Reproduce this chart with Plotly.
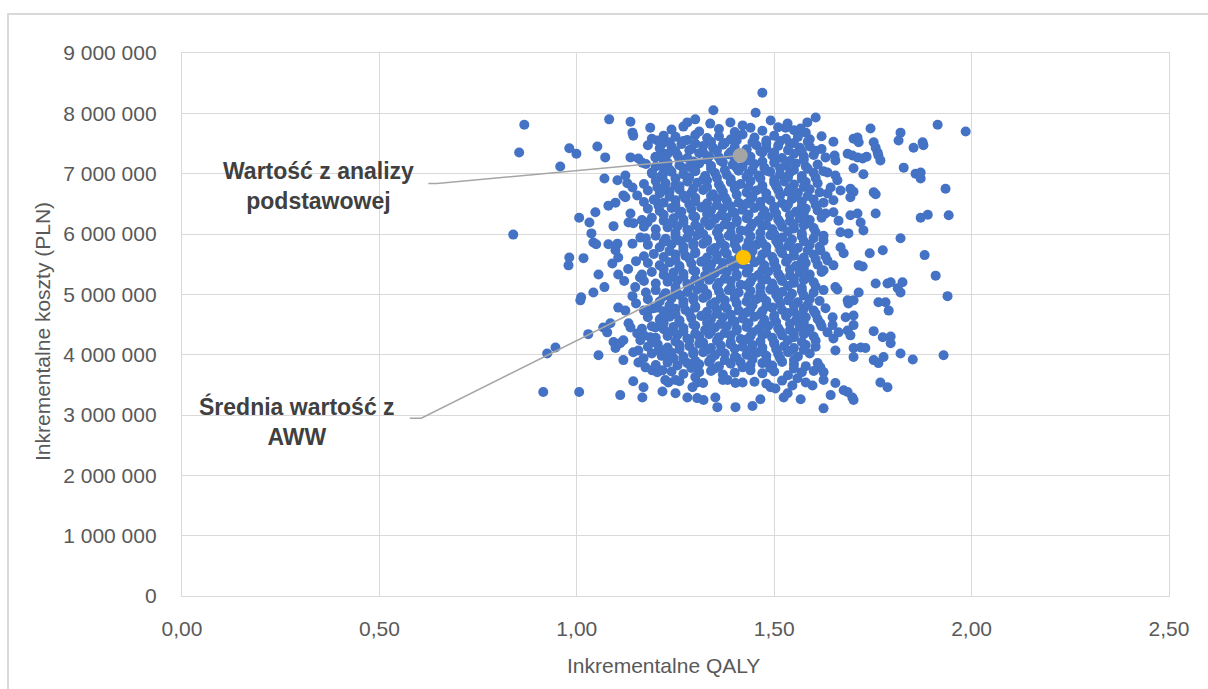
import plotly.graph_objects as go

# Points: (incremental QALY, incremental cost in mln PLN)
punkty_gora = [
    (1.470, 8.34), (1.346, 8.05), (1.453, 8.01), (0.867, 7.81), (1.082, 7.90), (1.136, 7.86),
    (1.280, 7.85), (1.300, 7.90), (1.338, 7.83), (1.389, 7.85), (1.491, 7.88), (1.534, 7.83),
    (1.605, 7.93), (1.584, 7.85), (1.186, 7.76), (1.420, 7.80), (1.744, 7.75), (1.914, 7.81),
    (1.985, 7.70), (1.529, 7.76), (1.567, 7.75), (1.820, 7.68), (1.815, 7.55),
]

punkty_lewo = [
    (0.854, 7.35), (0.981, 7.42), (0.999, 7.33), (1.052, 7.45), (1.072, 7.27), (0.958, 7.12),
    (1.136, 7.27), (1.141, 7.68), (1.143, 7.63), (1.156, 7.25), (1.166, 7.18), (1.204, 7.55),
    (1.217, 7.50), (1.199, 7.27), (1.219, 7.33), (1.224, 7.22), (1.191, 7.00),
    (1.103, 6.89), (1.123, 6.97), (1.128, 6.84), (1.141, 6.77), (1.118, 6.64), (1.153, 6.64),
    (1.204, 6.77), (1.217, 6.72), (1.219, 7.10), (1.229, 7.05), (1.217, 6.94), (1.070, 6.92),
    (0.839, 5.99), (1.006, 6.27), (1.047, 6.36), (1.032, 6.19), (1.080, 6.47), (1.098, 6.52),
    (1.123, 6.61), (1.136, 6.34), (1.131, 6.19), (1.143, 6.18), (1.093, 6.13), (1.037, 6.01),
    (1.042, 5.86), (1.049, 5.83), (1.080, 5.83), (1.103, 5.84), (1.098, 5.73), (1.105, 5.61),
    (1.090, 5.51), (1.141, 5.84), (1.161, 5.94), (1.179, 6.19), (1.199, 6.56), (1.207, 6.47),
    (0.981, 5.61), (0.979, 5.48), (1.017, 5.60), (1.055, 5.33), (1.105, 5.33), (1.148, 5.12),
    (1.141, 4.97), (1.042, 5.03), (1.011, 4.95), (1.120, 5.22), (1.070, 5.12), (1.130, 5.42),
    (1.150, 5.55), (1.160, 5.28), (1.150, 4.85),
]

punkty_lewo_dol = [
    (1.009, 4.90), (1.105, 4.78), (1.123, 4.73), (1.067, 4.45), (1.085, 4.52), (1.077, 4.37),
    (1.131, 4.52), (1.136, 4.45), (1.029, 4.34), (0.946, 4.12), (0.925, 4.02), (1.055, 3.99),
    (1.093, 4.21), (1.098, 4.11), (1.110, 4.19), (1.118, 4.24), (1.153, 4.35), (1.161, 4.24),
    (1.143, 4.04), (1.156, 4.07), (1.118, 3.91), (1.156, 3.87), (1.169, 3.94), (1.174, 3.79),
    (1.186, 4.29), (1.191, 4.21), (1.199, 4.45), (1.219, 4.57), (1.181, 4.73), (1.204, 4.78),
    (1.229, 4.69), (1.212, 4.60), (1.191, 3.74), (1.204, 3.71), (1.217, 3.74), (1.143, 3.56),
    (1.169, 3.46), (1.166, 3.29), (1.110, 3.33), (1.217, 3.39), (1.224, 3.58), (0.915, 3.38),
    (1.006, 3.38), (1.207, 4.07), (1.219, 4.02),
]

punkty_prawo = [
    (1.650, 7.53), (1.701, 7.58), (1.711, 7.60), (1.714, 7.52), (1.752, 7.52), (1.757, 7.43),
    (1.762, 7.35), (1.764, 7.30), (1.769, 7.22), (1.853, 7.43), (1.876, 7.52), (1.878, 7.47),
    (1.686, 7.33), (1.698, 7.30), (1.711, 7.27), (1.724, 7.25), (1.734, 7.28), (1.653, 7.30),
    (1.655, 7.22), (1.701, 7.09), (1.726, 6.99), (1.828, 7.10), (1.858, 7.00), (1.871, 7.02),
    (1.871, 6.92), (1.934, 6.75), (1.752, 6.69), (1.635, 7.02), (1.655, 6.97), (1.660, 6.89),
    (1.643, 6.77), (1.668, 6.72), (1.693, 6.75), (1.701, 6.70), (1.757, 6.66),
    (1.757, 6.34), (1.871, 6.27), (1.889, 6.32), (1.942, 6.31), (1.820, 5.93), (1.742, 5.68),
    (1.775, 5.73), (1.881, 5.65), (1.909, 5.31), (1.714, 5.48), (1.724, 5.46), (1.757, 5.18),
    (1.787, 5.18), (1.795, 5.20), (1.825, 5.20), (1.813, 5.10), (1.820, 5.03), (1.939, 4.97),
    (1.714, 5.03), (1.655, 5.12), (1.660, 5.08), (1.686, 4.90), (1.701, 4.90), (1.764, 4.87),
    (1.782, 4.87), (1.635, 6.67), (1.650, 6.56), (1.693, 6.61), (1.630, 6.34), (1.650, 6.36),
    (1.663, 6.22), (1.693, 6.31), (1.711, 6.34), (1.719, 6.19), (1.726, 6.06), (1.668, 6.03),
    (1.688, 6.01), (1.625, 5.89), (1.617, 5.73), (1.668, 5.78), (1.676, 5.68), (1.635, 5.56),
    (1.650, 5.48), (1.625, 5.40),
]

punkty_prawo_dol = [
    (1.688, 4.85), (1.790, 4.73), (1.648, 4.62), (1.681, 4.62), (1.701, 4.65), (1.617, 4.52),
    (1.648, 4.49), (1.701, 4.49), (1.635, 4.37), (1.663, 4.37), (1.686, 4.40), (1.693, 4.32),
    (1.650, 4.27), (1.752, 4.39), (1.775, 4.29), (1.795, 4.30), (1.795, 4.19), (1.655, 4.07),
    (1.701, 4.11), (1.719, 4.12), (1.731, 4.11), (1.701, 3.96), (1.752, 3.91), (1.764, 3.86),
    (1.777, 3.96), (1.820, 4.02), (1.851, 3.92), (1.929, 3.99), (1.769, 3.54), (1.787, 3.46),
    (1.617, 3.79), (1.625, 3.71), (1.625, 3.58), (1.655, 3.53), (1.676, 3.41), (1.686, 3.38),
    (1.698, 3.29), (1.701, 3.25), (1.643, 3.33), (1.625, 3.11),
]

punkty_dol = [
    (1.356, 3.13), (1.402, 3.13), (1.445, 3.15), (1.465, 3.26), (1.567, 3.26), (1.524, 3.29),
    (1.534, 3.36), (1.491, 3.46), (1.503, 3.44), (1.546, 3.49), (1.559, 3.61), (1.597, 3.49),
    (1.420, 3.54), (1.382, 3.58), (1.402, 3.53), (1.300, 3.63), (1.305, 3.54), (1.293, 3.46),
    (1.280, 3.29), (1.305, 3.28), (1.321, 3.25), (1.351, 3.29), (1.232, 3.54), (1.250, 3.58),
    (1.250, 3.36), (1.229, 3.96), (1.245, 3.94),
]

punkty_rdzen_gorny = [
    (1.24, 7.73), (1.27, 7.78), (1.31, 7.70), (1.36, 7.74), (1.40, 7.69), (1.44, 7.76), (1.47, 7.71), (1.51, 7.77), (1.55, 7.72), (1.58, 7.68),
    (1.19, 7.58), (1.22, 7.63), (1.25, 7.61), (1.28, 7.56), (1.30, 7.64), (1.33, 7.59), (1.36, 7.62), (1.39, 7.57), (1.42, 7.65), (1.45, 7.60), (1.48, 7.55), (1.50, 7.63), (1.53, 7.58), (1.56, 7.61), (1.59, 7.57), (1.62, 7.62),
    (1.18, 7.47), (1.21, 7.42), (1.24, 7.45), (1.265, 7.49), (1.29, 7.41), (1.32, 7.46), (1.345, 7.43), (1.37, 7.48), (1.40, 7.44), (1.43, 7.40), (1.455, 7.47), (1.48, 7.42), (1.51, 7.46), (1.54, 7.49), (1.565, 7.43), (1.59, 7.45), (1.62, 7.41),
    (1.20, 7.28), (1.23, 7.33), (1.255, 7.31), (1.28, 7.26), (1.31, 7.34), (1.335, 7.29), (1.36, 7.27), (1.385, 7.32), (1.44, 7.28), (1.47, 7.35), (1.495, 7.30), (1.52, 7.26), (1.55, 7.33), (1.575, 7.29), (1.60, 7.31), (1.63, 7.27),
    (1.175, 7.16), (1.20, 7.12), (1.23, 7.18), (1.26, 7.14), (1.285, 7.11), (1.31, 7.17), (1.34, 7.13), (1.37, 7.19), (1.395, 7.15), (1.42, 7.12), (1.45, 7.16), (1.475, 7.10), (1.50, 7.18), (1.53, 7.14), (1.555, 7.17), (1.58, 7.12), (1.61, 7.15),
    (1.19, 7.02), (1.215, 6.97), (1.24, 7.03), (1.27, 6.99), (1.30, 7.04), (1.325, 6.96), (1.35, 7.01), (1.38, 6.98), (1.41, 7.05), (1.435, 7.00), (1.46, 6.97), (1.49, 7.03), (1.515, 6.99), (1.54, 7.02), (1.57, 6.96), (1.60, 7.01), (1.625, 7.04),
    (1.17, 6.83), (1.20, 6.88), (1.225, 6.84), (1.25, 6.81), (1.28, 6.87), (1.305, 6.85), (1.33, 6.89), (1.36, 6.82), (1.39, 6.86), (1.415, 6.83), (1.44, 6.88), (1.47, 6.80), (1.50, 6.85), (1.525, 6.87), (1.55, 6.82), (1.58, 6.86), (1.61, 6.84),
    (1.18, 6.72), (1.21, 6.67), (1.235, 6.71), (1.26, 6.74), (1.29, 6.68), (1.32, 6.73), (1.345, 6.66), (1.37, 6.70), (1.40, 6.75), (1.43, 6.69), (1.455, 6.72), (1.48, 6.67), (1.51, 6.73), (1.535, 6.70), (1.56, 6.68), (1.59, 6.74), (1.615, 6.69),
    (1.17, 6.53), (1.195, 6.57), (1.22, 6.52), (1.25, 6.56), (1.275, 6.59), (1.30, 6.54), (1.33, 6.51), (1.355, 6.58), (1.38, 6.55), (1.41, 6.52), (1.44, 6.57), (1.465, 6.53), (1.49, 6.56), (1.52, 6.51), (1.545, 6.58), (1.57, 6.54), (1.60, 6.57), (1.625, 6.52),
    (1.18, 6.42), (1.21, 6.38), (1.24, 6.43), (1.265, 6.37), (1.29, 6.41), (1.315, 6.44), (1.34, 6.39), (1.37, 6.42), (1.395, 6.36), (1.42, 6.40), (1.45, 6.43), (1.475, 6.38), (1.50, 6.41), (1.53, 6.44), (1.555, 6.37), (1.58, 6.42), (1.61, 6.39),
    (1.165, 6.23), (1.19, 6.27), (1.22, 6.22), (1.245, 6.26), (1.27, 6.24), (1.30, 6.28), (1.325, 6.21), (1.35, 6.25), (1.38, 6.27), (1.405, 6.23), (1.43, 6.26), (1.46, 6.22), (1.485, 6.28), (1.51, 6.24), (1.54, 6.21), (1.565, 6.26), (1.59, 6.23), (1.62, 6.27),
    (1.17, 6.12), (1.20, 6.08), (1.23, 6.11), (1.255, 6.13), (1.28, 6.07), (1.31, 6.10), (1.335, 6.14), (1.36, 6.09), (1.39, 6.12), (1.415, 6.06), (1.44, 6.11), (1.47, 6.13), (1.495, 6.08), (1.52, 6.12), (1.55, 6.09), (1.575, 6.14), (1.60, 6.10),
    (1.175, 5.93), (1.20, 5.97), (1.225, 5.92), (1.25, 5.96), (1.28, 5.94), (1.305, 5.98), (1.33, 5.91), (1.36, 5.95), (1.385, 5.97), (1.41, 5.93), (1.44, 5.96), (1.465, 5.92), (1.49, 5.98), (1.52, 5.94), (1.545, 5.91), (1.57, 5.96), (1.60, 5.93), (1.625, 5.97),
    (1.18, 5.82), (1.21, 5.78), (1.24, 5.83), (1.27, 5.79), (1.295, 5.81), (1.32, 5.84), (1.35, 5.77), (1.375, 5.80), (1.40, 5.83), (1.43, 5.78), (1.455, 5.82), (1.48, 5.79), (1.51, 5.84), (1.535, 5.80), (1.56, 5.77), (1.59, 5.82), (1.615, 5.79),
]

punkty_rdzen_dolny = [
    (1.17, 5.63), (1.195, 5.67), (1.22, 5.62), (1.25, 5.66), (1.275, 5.64), (1.30, 5.68), (1.33, 5.61), (1.355, 5.65), (1.38, 5.67), (1.41, 5.60), (1.44, 5.63), (1.47, 5.66), (1.495, 5.62), (1.52, 5.68), (1.55, 5.64), (1.575, 5.61), (1.60, 5.66), (1.63, 5.63),
    (1.18, 5.52), (1.21, 5.48), (1.235, 5.53), (1.26, 5.47), (1.29, 5.51), (1.315, 5.54), (1.34, 5.49), (1.37, 5.52), (1.395, 5.46), (1.42, 5.50), (1.45, 5.53), (1.475, 5.48), (1.50, 5.51), (1.53, 5.54), (1.555, 5.47), (1.58, 5.52), (1.61, 5.49),
    (1.165, 5.33), (1.19, 5.37), (1.22, 5.32), (1.245, 5.36), (1.27, 5.34), (1.30, 5.38), (1.325, 5.31), (1.35, 5.35), (1.38, 5.37), (1.405, 5.33), (1.43, 5.36), (1.46, 5.32), (1.485, 5.38), (1.51, 5.34), (1.54, 5.31), (1.565, 5.36), (1.59, 5.33), (1.62, 5.37),
    (1.17, 5.22), (1.20, 5.18), (1.23, 5.21), (1.255, 5.23), (1.28, 5.17), (1.31, 5.20), (1.335, 5.24), (1.36, 5.19), (1.39, 5.22), (1.415, 5.16), (1.44, 5.21), (1.47, 5.23), (1.495, 5.18), (1.52, 5.22), (1.55, 5.19), (1.575, 5.24), (1.60, 5.20),
    (1.175, 5.03), (1.20, 5.07), (1.225, 5.02), (1.25, 5.06), (1.28, 5.04), (1.305, 5.08), (1.33, 5.01), (1.36, 5.05), (1.385, 5.07), (1.41, 5.03), (1.44, 5.06), (1.465, 5.02), (1.49, 5.08), (1.52, 5.04), (1.545, 5.01), (1.57, 5.06), (1.60, 5.03), (1.625, 5.07),
    (1.18, 4.92), (1.21, 4.88), (1.24, 4.93), (1.27, 4.89), (1.295, 4.91), (1.32, 4.94), (1.35, 4.87), (1.375, 4.90), (1.40, 4.93), (1.43, 4.88), (1.455, 4.92), (1.48, 4.89), (1.51, 4.94), (1.535, 4.90), (1.56, 4.87), (1.59, 4.92), (1.615, 4.89),
    (1.17, 4.73), (1.195, 4.77), (1.22, 4.72), (1.25, 4.76), (1.275, 4.74), (1.30, 4.78), (1.33, 4.71), (1.355, 4.75), (1.38, 4.77), (1.41, 4.73), (1.44, 4.76), (1.47, 4.72), (1.495, 4.78), (1.52, 4.74), (1.55, 4.71), (1.575, 4.76), (1.60, 4.73), (1.63, 4.77),
    (1.18, 4.62), (1.21, 4.58), (1.235, 4.63), (1.26, 4.57), (1.29, 4.61), (1.315, 4.64), (1.34, 4.59), (1.37, 4.62), (1.395, 4.56), (1.42, 4.60), (1.45, 4.63), (1.475, 4.58), (1.50, 4.61), (1.53, 4.64), (1.555, 4.57), (1.58, 4.62), (1.61, 4.59),
    (1.165, 4.43), (1.19, 4.47), (1.22, 4.42), (1.245, 4.46), (1.27, 4.44), (1.30, 4.48), (1.325, 4.41), (1.35, 4.45), (1.38, 4.47), (1.405, 4.43), (1.43, 4.46), (1.46, 4.42), (1.485, 4.48), (1.51, 4.44), (1.54, 4.41), (1.565, 4.46), (1.59, 4.43), (1.62, 4.47),
    (1.17, 4.32), (1.20, 4.28), (1.23, 4.31), (1.255, 4.33), (1.28, 4.27), (1.31, 4.30), (1.335, 4.34), (1.36, 4.29), (1.39, 4.32), (1.415, 4.26), (1.44, 4.31), (1.47, 4.33), (1.495, 4.28), (1.52, 4.32), (1.55, 4.29), (1.575, 4.34), (1.60, 4.30),
    (1.18, 4.13), (1.205, 4.17), (1.23, 4.12), (1.26, 4.16), (1.285, 4.14), (1.31, 4.18), (1.34, 4.11), (1.365, 4.15), (1.39, 4.17), (1.42, 4.13), (1.445, 4.16), (1.47, 4.12), (1.50, 4.18), (1.525, 4.14), (1.55, 4.11), (1.58, 4.16), (1.605, 4.13),
    (1.19, 4.02), (1.215, 3.98), (1.24, 4.03), (1.27, 3.97), (1.295, 4.01), (1.32, 4.04), (1.35, 3.99), (1.375, 4.02), (1.40, 3.96), (1.43, 4.00), (1.455, 4.03), (1.48, 3.98), (1.51, 4.01), (1.535, 4.04), (1.56, 3.97), (1.59, 4.02),
    (1.20, 3.83), (1.23, 3.87), (1.255, 3.82), (1.28, 3.86), (1.31, 3.84), (1.335, 3.88), (1.36, 3.81), (1.39, 3.85), (1.415, 3.87), (1.44, 3.83), (1.47, 3.86), (1.495, 3.82), (1.52, 3.88), (1.55, 3.84), (1.58, 3.81), (1.61, 3.86),
    (1.24, 3.72), (1.27, 3.68), (1.31, 3.71), (1.34, 3.73), (1.37, 3.67), (1.40, 3.70), (1.44, 3.74), (1.47, 3.69), (1.50, 3.72), (1.535, 3.66), (1.57, 3.71), (1.60, 3.73),
    (1.26, 3.56), (1.32, 3.53), (1.37, 3.58), (1.45, 3.55), (1.48, 3.52), (1.52, 3.57), (1.58, 3.54),
]

punkty_rdzen_srodek = [
    (1.235, 7.52), (1.27, 7.54), (1.30, 7.50), (1.34, 7.53), (1.375, 7.51), (1.405, 7.55), (1.445, 7.52), (1.48, 7.50), (1.515, 7.54), (1.55, 7.51), (1.585, 7.53),
    (1.25, 7.37), (1.285, 7.39), (1.32, 7.35), (1.355, 7.38), (1.39, 7.36), (1.43, 7.40), (1.465, 7.37), (1.50, 7.35), (1.535, 7.39), (1.57, 7.36), (1.605, 7.38),
    (1.22, 7.22), (1.26, 7.24), (1.295, 7.20), (1.33, 7.23), (1.365, 7.21), (1.40, 7.25), (1.435, 7.22), (1.47, 7.20), (1.505, 7.24), (1.54, 7.21), (1.575, 7.23),
    (1.235, 7.07), (1.27, 7.09), (1.30, 7.05), (1.34, 7.08), (1.375, 7.06), (1.405, 7.10), (1.445, 7.07), (1.48, 7.05), (1.515, 7.09), (1.55, 7.06), (1.585, 7.08),
    (1.25, 6.92), (1.285, 6.94), (1.32, 6.90), (1.355, 6.93), (1.39, 6.91), (1.43, 6.95), (1.465, 6.92), (1.50, 6.90), (1.535, 6.94), (1.57, 6.91), (1.605, 6.93),
    (1.22, 6.77), (1.26, 6.79), (1.295, 6.75), (1.33, 6.78), (1.365, 6.76), (1.40, 6.80), (1.435, 6.77), (1.47, 6.75), (1.505, 6.79), (1.54, 6.76), (1.575, 6.78),
    (1.235, 6.62), (1.27, 6.64), (1.30, 6.60), (1.34, 6.63), (1.375, 6.61), (1.405, 6.65), (1.445, 6.62), (1.48, 6.60), (1.515, 6.64), (1.55, 6.61), (1.585, 6.63),
    (1.25, 6.47), (1.285, 6.49), (1.32, 6.45), (1.355, 6.48), (1.39, 6.46), (1.43, 6.50), (1.465, 6.47), (1.50, 6.45), (1.535, 6.49), (1.57, 6.46), (1.605, 6.48),
    (1.22, 6.32), (1.26, 6.34), (1.295, 6.30), (1.33, 6.33), (1.365, 6.31), (1.40, 6.35), (1.435, 6.32), (1.47, 6.30), (1.505, 6.34), (1.54, 6.31), (1.575, 6.33),
    (1.235, 6.17), (1.27, 6.19), (1.30, 6.15), (1.34, 6.18), (1.375, 6.16), (1.405, 6.20), (1.445, 6.17), (1.48, 6.15), (1.515, 6.19), (1.55, 6.16), (1.585, 6.18),
    (1.25, 6.02), (1.285, 6.04), (1.32, 6.00), (1.355, 6.03), (1.39, 6.01), (1.43, 6.05), (1.465, 6.02), (1.50, 6.00), (1.535, 6.04), (1.57, 6.01), (1.605, 6.03),
    (1.22, 5.87), (1.26, 5.89), (1.295, 5.85), (1.33, 5.88), (1.365, 5.86), (1.40, 5.90), (1.435, 5.87), (1.47, 5.85), (1.505, 5.89), (1.54, 5.86), (1.575, 5.88),
    (1.235, 5.72), (1.27, 5.74), (1.30, 5.70), (1.34, 5.73), (1.375, 5.71), (1.405, 5.75), (1.445, 5.72), (1.48, 5.70), (1.515, 5.74), (1.55, 5.71), (1.585, 5.73),
    (1.25, 5.57), (1.285, 5.59), (1.32, 5.55), (1.355, 5.58), (1.39, 5.56), (1.43, 5.60), (1.465, 5.57), (1.50, 5.55), (1.535, 5.59), (1.57, 5.56), (1.605, 5.58),
    (1.22, 5.42), (1.26, 5.44), (1.295, 5.40), (1.33, 5.43), (1.365, 5.41), (1.40, 5.45), (1.435, 5.42), (1.47, 5.40), (1.505, 5.44), (1.54, 5.41), (1.575, 5.43),
    (1.235, 5.27), (1.27, 5.29), (1.30, 5.25), (1.34, 5.28), (1.375, 5.26), (1.405, 5.30), (1.445, 5.27), (1.48, 5.25), (1.515, 5.29), (1.55, 5.26), (1.585, 5.28),
    (1.25, 5.12), (1.285, 5.14), (1.32, 5.10), (1.355, 5.13), (1.39, 5.11), (1.43, 5.15), (1.465, 5.12), (1.50, 5.10), (1.535, 5.14), (1.57, 5.11), (1.605, 5.13),
    (1.22, 4.97), (1.26, 4.99), (1.295, 4.95), (1.33, 4.98), (1.365, 4.96), (1.40, 5.00), (1.435, 4.97), (1.47, 4.95), (1.505, 4.99), (1.54, 4.96), (1.575, 4.98),
    (1.235, 4.82), (1.27, 4.84), (1.30, 4.80), (1.34, 4.83), (1.375, 4.81), (1.405, 4.85), (1.445, 4.82), (1.48, 4.80), (1.515, 4.84), (1.55, 4.81), (1.585, 4.83),
    (1.25, 4.67), (1.285, 4.69), (1.32, 4.65), (1.355, 4.68), (1.39, 4.66), (1.43, 4.70), (1.465, 4.67), (1.50, 4.65), (1.535, 4.69), (1.57, 4.66), (1.605, 4.68),
    (1.22, 4.52), (1.26, 4.54), (1.295, 4.50), (1.33, 4.53), (1.365, 4.51), (1.40, 4.55), (1.435, 4.52), (1.47, 4.50), (1.505, 4.54), (1.54, 4.51), (1.575, 4.53),
    (1.235, 4.37), (1.27, 4.39), (1.30, 4.35), (1.34, 4.38), (1.375, 4.36), (1.405, 4.40), (1.445, 4.37), (1.48, 4.35), (1.515, 4.39), (1.55, 4.36), (1.585, 4.38),
    (1.25, 4.22), (1.285, 4.24), (1.32, 4.20), (1.355, 4.23), (1.39, 4.21), (1.43, 4.25), (1.465, 4.22), (1.50, 4.20), (1.535, 4.24), (1.57, 4.21), (1.605, 4.23),
    (1.22, 4.07), (1.26, 4.09), (1.295, 4.05), (1.33, 4.08), (1.365, 4.06), (1.40, 4.10), (1.435, 4.07), (1.47, 4.05), (1.505, 4.09), (1.54, 4.06), (1.575, 4.08),
    (1.27, 3.92), (1.30, 3.90), (1.34, 3.93), (1.375, 3.91), (1.405, 3.95), (1.445, 3.92), (1.48, 3.90), (1.515, 3.94), (1.55, 3.91),
    (1.29, 3.78), (1.35, 3.77), (1.42, 3.79), (1.49, 3.78), (1.55, 3.77),
]

# Highlighted points
qaly_baza, koszt_baza = 1.414, 7.30e6          # Wartość z analizy podstawowej
qaly_srednia, koszt_srednia = 1.422, 5.612e6   # Średnia wartość z AWW

# Axis ticks
x_ticki = [0, 0.5, 1.0, 1.5, 2.0, 2.5]
y_ticki = [0, 1e6, 2e6, 3e6, 4e6, 5e6, 6e6, 7e6, 8e6, 9e6]

# Label anchors (data coordinates) and leader line starts
etykieta_baza = (0.345, 6.80e6)
etykieta_srednia = (0.2915, 2.90e6)
linia_baza_start = [(0.624, 6.837e6), (0.646, 6.837e6)]
linia_srednia_start = [(0.577, 2.947e6), (0.606, 2.947e6)]

wszystkie = (punkty_gora + punkty_lewo + punkty_lewo_dol + punkty_prawo + punkty_prawo_dol
             + punkty_dol + punkty_rdzen_gorny + punkty_rdzen_dolny + punkty_rdzen_srodek)
qaly = [p[0] for p in wszystkie]
koszt = [p[1] * 1e6 for p in wszystkie]

NIEBIESKI = "#4472C4"
SZARY_TXT = "#595959"
SIATKA = "#D9D9D9"
FONT = "Liberation Sans"

fig = go.Figure()
fig.add_trace(go.Scatter(x=qaly, y=koszt, mode="markers",
                         marker=dict(color=NIEBIESKI, size=10, line=dict(width=0)),
                         hoverinfo="skip"))
fig.add_trace(go.Scatter(x=[p[0] for p in linia_baza_start] + [qaly_baza],
                         y=[p[1] for p in linia_baza_start] + [koszt_baza],
                         mode="lines", line=dict(color="#A6A6A6", width=1.6), hoverinfo="skip"))
fig.add_trace(go.Scatter(x=[p[0] for p in linia_srednia_start] + [qaly_srednia],
                         y=[p[1] for p in linia_srednia_start] + [koszt_srednia],
                         mode="lines", line=dict(color="#A6A6A6", width=1.6), hoverinfo="skip"))
fig.add_trace(go.Scatter(x=[qaly_baza], y=[koszt_baza], mode="markers",
                         marker=dict(color="#A5A5A5", size=15, line=dict(width=0)), hoverinfo="skip"))
fig.add_trace(go.Scatter(x=[qaly_srednia], y=[koszt_srednia], mode="markers",
                         marker=dict(color="#FFC000", size=15, line=dict(width=0)), hoverinfo="skip"))

L, R, T, B = 182, 39, 53, 93
W, H = 1208, 689
pw, ph = W - L - R, H - T - B

def px_x(p):
    return (p - L) / pw

def px_y(p):
    return (H - B - p) / ph

fig.add_annotation(x=etykieta_baza[0], y=etykieta_baza[1], xref="x", yref="y",
                   xanchor="center", yanchor="middle",
                   text="<b>Wartość z analizy<br>podstawowej</b>", showarrow=False,
                   align="center", font=dict(family=FONT, size=23, color="#404040"))
fig.add_annotation(x=etykieta_srednia[0], y=etykieta_srednia[1], xref="x", yref="y",
                   xanchor="center", yanchor="middle",
                   text="<b>Średnia wartość z<br>AWW</b>", showarrow=False,
                   align="center", font=dict(family=FONT, size=23, color="#404040"))
fig.add_annotation(x=px_x(663), y=px_y(666), xref="paper", yref="paper",
                   xanchor="center", yanchor="middle",
                   text="Inkrementalne QALY", showarrow=False,
                   font=dict(family=FONT, size=21, color=SZARY_TXT))
fig.add_annotation(x=px_x(42), y=px_y(332), xref="paper", yref="paper",
                   xanchor="center", yanchor="middle",
                   text="Inkrementalne koszty (PLN)", showarrow=False, textangle=-90,
                   font=dict(family=FONT, size=21, color=SZARY_TXT))

# outer chart frame
fig.add_shape(type="rect", xref="paper", yref="paper",
              x0=px_x(8), x1=px_x(1230), y0=px_y(14), y1=px_y(720),
              line=dict(color=SIATKA, width=2), layer="below")

fig.update_layout(
    width=W, height=H, autosize=False,
    margin=dict(l=L, r=R, t=T, b=B),
    paper_bgcolor="white", plot_bgcolor="white",
    showlegend=False, separators=", ",
    font=dict(family=FONT, color=SZARY_TXT),
)
fig.update_xaxes(range=[0, 2.5], tickvals=x_ticki, tickformat=".2f",
                 showgrid=True, gridcolor=SIATKA, gridwidth=1.3, zeroline=False,
                 showline=True, linecolor=SIATKA, linewidth=1.3, mirror=True,
                 ticks="", ticklabelstandoff=14,
                 tickfont=dict(family=FONT, size=21, color=SZARY_TXT))
fig.update_yaxes(range=[0, 9e6], tickvals=y_ticki, tickformat=",.0f",
                 showgrid=True, gridcolor=SIATKA, gridwidth=1.3, zeroline=False,
                 showline=True, linecolor=SIATKA, linewidth=1.3, mirror=True,
                 ticks="", ticklabelstandoff=20,
                 tickfont=dict(family=FONT, size=21, color=SZARY_TXT))

fig.write_html("out.html")
